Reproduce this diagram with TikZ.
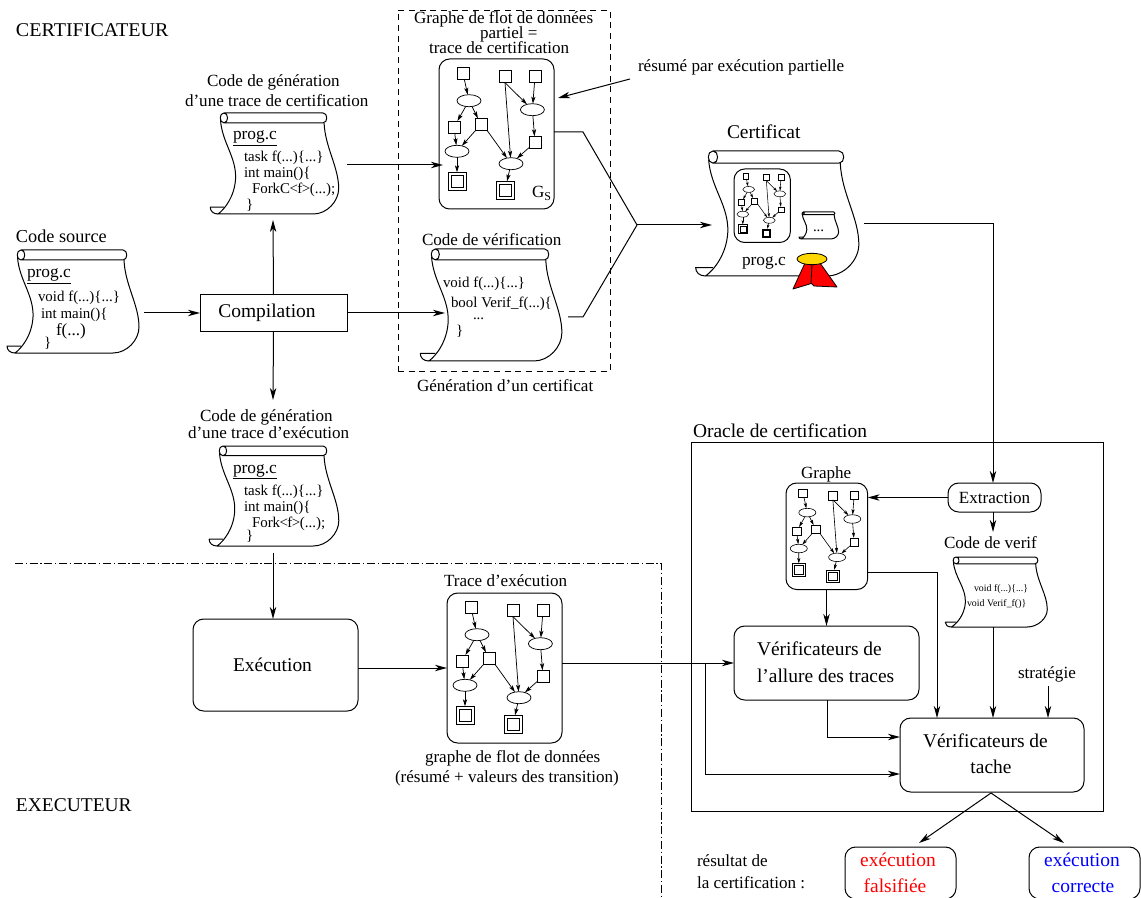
\documentclass[tikz,border=0pt]{standalone}
\usepackage{fontspec}
\setmainfont{Liberation Serif}
\usetikzlibrary{arrows.meta,shapes.geometric}
\newcommand\szN{\fontsize{12.8}{15}\selectfont}
\newcommand\szB{\fontsize{14.6}{17}\selectfont}
\newcommand\szS{\fontsize{13.7}{16}\selectfont}
\newcommand\szC{\fontsize{11.2}{13}\selectfont}
\newcommand\szP{\fontsize{13}{15}\selectfont}
\newcommand\szT{\fontsize{7.4}{9}\selectfont}
\definecolor{sealgold}{HTML}{FFD700}
\tikzset{
  x=0.75pt,y=-0.75pt,
  txt/.style={inner sep=0pt,outer sep=0pt,anchor=base west},
  wire/.style={line width=0.75pt},
  conn/.style={wire,-{Stealth[length=9pt,width=4.8pt,inset=2.6pt]}},
  frame/.style={draw,line width=0.75pt,rectangle,inner sep=0pt,outer sep=0pt},
  rframe/.style={frame,rounded corners=8pt},
  scrollline/.style={line width=0.75pt,line join=round},
}
% name, x1, y1, x2, y2, style, text
\newcommand\pxbox[7]{\node[#6,minimum width={(#4-#2)*0.75pt},minimum height={(#5-#3)*0.75pt}] (#1) at ({(#2+#4)/2},{(#3+#5)/2}) {#7};}
% x, y (bar top left), width, height
\newcommand\scrollshape[4]{%
  \begin{scope}[shift={(#1,#2)},xscale={#3/110},yscale={#4/103}]
    \draw[scrollline] (4,0) -- (106,0) .. controls (111,0) and (111,10) .. (106,10) -- (4,10)
       .. controls (-1,10) and (-1,0) .. (4,0) .. controls (9,0) and (9,10) .. (4,10);
    \draw[scrollline] (0.5,7) .. controls (2,30) and (17,45) .. (16,67)
       .. controls (15,85) and (5,98) .. (-2,103) -- (96,103)
       .. controls (110,103) and (122,90) .. (122,77)
       .. controls (122,55) and (108,35) .. (107,10);
    \draw[scrollline] (4,96) -- (-10,96) .. controls (-10,100) and (-7,103) .. (-2,103);
  \end{scope}}
% prefix, x, y, scale
\newcommand\minigraph[4]{%
  \pgfmathsetmacro\mgL{4*#4+1.2}\pgfmathsetmacro\mgW{2.6*#4+0.5}\pgfmathsetmacro\mgI{1*#4+0.2}%
  \pgfmathsetmacro\mgLw{0.3*#4+0.25}%
  \begin{scope}[shift={(#2,#3)},scale=#4,every node/.append style={transform shape},
     sqnode/.style={draw,line width=\mgLw pt,rectangle,minimum size=9pt,inner sep=0pt,outer sep=0pt},
     dblnode/.style={draw,line width=\mgLw pt,rectangle,minimum size=13.5pt,inner sep=0pt,outer sep=0pt},
     elnode/.style={draw,line width=\mgLw pt,ellipse,minimum width=18pt,minimum height=9pt,inner sep=0pt,outer sep=0pt},
     mini/.style={line width=\mgLw pt,-{Stealth[length=\mgL pt,width=\mgW pt,inset=\mgI pt]}}]
    \node[frame,rounded corners=8pt,minimum width=86.25pt,minimum height=112.5pt] (#1box) at (57.5,75) {};
    \node[sqnode] (#1s1) at (24,14.3) {};
    \node[sqnode] (#1s2) at (66,17.7) {};
    \node[sqnode] (#1s3) at (96,17.3) {};
    \node[elnode] (#1e1) at (30,41.7) {};
    \node[elnode] (#1e2) at (93.4,50.7) {};
    \node[sqnode] (#1s4) at (15,68) {};
    \node[sqnode] (#1s5) at (42,65.3) {};
    \node[sqnode] (#1s6) at (96,83.3) {};
    \node[elnode] (#1e3) at (18,92.3) {};
    \node[elnode] (#1e4) at (72,104.7) {};
    \node[dblnode] (#1d1) at (18,122.3) {};
    \node[sqnode] (#1i1) at (18,122.3) {};
    \node[dblnode] (#1d2) at (66,131.3) {};
    \node[sqnode] (#1i2) at (66,131.3) {};
    \draw[mini] (#1s1) -- (#1e1);
    \draw[mini] (#1s2.south) -- (#1e2);
    \draw[mini] (#1s3) -- (#1e2);
    \draw[mini] (#1s2.south) -- (#1e4);
    \draw[mini] (#1e1) -- (#1s4);
    \draw[mini] (#1e1) -- (#1s5);
    \draw[mini] (#1s4) -- (#1e3);
    \draw[mini] (#1s5) -- (#1e3);
    \draw[mini] (#1s5.south east) -- (#1e4);
    \draw[mini] (#1e2) -- (#1s6);
    \draw[mini] (#1s6) -- (#1e4);
    \draw[mini] (#1e3) -- (#1d1);
    \draw[mini] (#1e4) -- (#1d2);
  \end{scope}}
\begin{document}
\begin{tikzpicture}
\useasboundingbox (0,0) rectangle (1141,898);

% section titles
\node[txt,font=\szB,xscale=1.03] (tCert) at (16,36.5) {CERTIFICATEUR};
\node[txt,font=\szB] (tExec) at (16,811) {EXECUTEUR};

% dashed and dash-dotted frames
\pxbox{genbox}{398}{10}{610}{371}{draw,line width=0.65pt,dash pattern=on 4.5pt off 3.5pt,inner sep=0pt}{}
\coordinate (ddA) at (15,563);
\coordinate (ddB) at (661,563);
\coordinate (ddC) at (661,898);
\draw[line width=0.65pt,dash pattern=on 6pt off 2pt on 1pt off 2pt] (ddA) -- (ddB) -- (ddC);
\pxbox{oracle}{691}{442}{1103}{811}{frame}{}

% code source
\node[txt,font=\szS] (lSrc) at (16,243) {Code source};
\scrollshape{17}{250}{110}{103}
\node[txt,font=\szP] (a1) at (27,278) {\underline{prog.c}};
\node[txt,font=\szC] (a2) at (38,302) {void f(...)\{...\}};
\node[txt,font=\szC] (a3) at (41,319) {int main()\{};
\node[txt,font=\szN] (a4) at (56,335) {f(...)};
\node[txt,font=\szC] (a5) at (44,347) {\}};

% code generation certification trace
\node[txt,font=\szN] (b0) at (207,87) {Code de génération};
\node[txt,font=\szN] (b00) at (185,107) {d’une trace de certification};
\scrollshape{220}{113}{107}{101}
\node[txt,font=\szP] (b1) at (233,140) {\underline{prog.c}};
\node[txt,font=\szC] (b2) at (244,162) {task f(...)\{...\}};
\node[txt,font=\szC] (b3) at (244,178) {int main()\{};
\node[txt,font=\szC] (b4) at (252,194) {ForkC\kern-0.5pt<\kern-0.4pt f\kern-0.4pt>\kern-0.3pt(...);};
\node[txt,font=\szC] (b5) at (246,210) {\}};

% code generation execution trace
\node[txt,font=\szN] (c0) at (200,421) {Code de génération};
\node[txt,font=\szN] (c00) at (188,438) {d’une trace d’exécution};
\scrollshape{219}{446}{108}{100}
\node[txt,font=\szP] (c1) at (233,473) {\underline{prog.c}};
\node[txt,font=\szC] (c2) at (244,495) {task f(...)\{...\}};
\node[txt,font=\szC] (c3) at (244,511) {int main()\{};
\node[txt,font=\szC] (c4) at (252,527) {Fork\kern-0.5pt<\kern-0.4pt f\kern-0.4pt>\kern-0.3pt(...);};
\node[txt,font=\szC] (c5) at (246,540) {\}};

% dashed frame contents
\node[txt,font=\szN] (d1) at (414,24) {Graphe de flot de données};
\node[txt,font=\szN] (d2) at (480,39) {partiel =};
\node[txt,font=\szN] (d3) at (429,54) {trace de certification};
\minigraph{gs}{439}{59}{1}
\node[txt,font=\szN] (dG) at (532,198) {G\raisebox{-2pt}{\fontsize{9}{10}\selectfont S}};
\node[txt,font=\szN] (e0) at (422,246) {Code de vérification};
\scrollshape{431}{249}{118}{112}
\node[txt,font=\szC] (e1) at (443,288) {void f(...)\{...\}};
\node[txt,font=\szC] (e2) at (451,308) {bool Verif\_f(...)\{};
\node[txt,font=\szC] (e3) at (473,320) {...};
\node[txt,font=\szC] (e4) at (456,335) {\}};
\node[txt,font=\szN] (e5) at (417,391) {Génération d’un certificat};
\node[txt,font=\szN] (e6) at (638,72) {résumé par exécution partielle};

% certificate
\node[txt,font=\szB] (f0) at (727,139) {Certificat};
\scrollshape{708}{151}{136}{125}
\minigraph{ce}{734}{169}{0.49}
\scrollshape{802}{212}{33}{27}
\node[txt,font=\szC] (f1) at (813,232) {...};
\node[txt,font=\szP] (f2) at (742,266) {prog.c};
\draw[fill=red,line width=0.6pt,line join=round] (805,263) -- (793,289) -- (813,283) -- (812,265) -- cycle;
\draw[fill=red,line width=0.6pt,line join=round] (812,265) -- (811,283) -- (814,286) -- (837,287) -- (820,263) -- cycle;
\node[draw,fill=sealgold,line width=0.6pt,ellipse,minimum width=22.5pt,minimum height=8.5pt,inner sep=0pt] (seal) at (812,259) {};

% compilation and execution
\pxbox{comp}{200}{295}{347}{331}{frame,font=\szB}{Compilation\kern 9.8pt}
\pxbox{exe}{193}{619}{358}{711}{rframe,font=\szB}{Exécution\kern 4.5pt}

% execution trace
\node[txt,font=\szN] (g0) at (444,586) {Trace d’exécution};
\minigraph{tr}{447}{593}{1}
\node[txt,font=\szN] (g1) at (425,762) {graphe de flot de données};
\node[txt,font=\szN] (g2) at (395,782) {(résumé + valeurs des transition)};

% oracle contents
\node[txt,font=\szB] (h0) at (693,437) {Oracle de certification};
\pxbox{extr}{948}{483}{1041}{512}{rframe,font=\szN}{Extraction}
\node[txt,font=\szN] (h1) at (801,478) {Graphe};
\minigraph{gr}{786}{483}{0.71}
\node[txt,font=\szN] (h2) at (944,548) {Code de verif};
\scrollshape{953}{557}{85}{70}
\node[txt,font=\szT] (h3) at (974,591) {void f(...)\{...\}};
\node[txt,font=\szT] (h4) at (967,606) {void Verif\_f()\}};
\pxbox{allure}{734}{626}{919}{700}{rframe}{}
\node[txt,font=\szB] (i1) at (757,655) {Vérificateurs de};
\node[txt,font=\szB] (i2) at (757,682) {l’allure des traces};
\pxbox{tache}{900}{718}{1084}{792}{rframe}{}
\node[txt,font=\szB] (j1) at (923,747) {Vérificateurs de};
\node[txt,font=\szB,anchor=base] (j2) at (991,773) {tache};
\node[txt,font=\szN] (j3) at (1018,678) {stratégie};

% results
\node[txt,font=\szN] (k1) at (697,866) {résultat de};
\node[txt,font=\szN] (k2) at (697,888) {la certification :};
\pxbox{faux}{845}{847}{956}{899}{rframe}{}
\pxbox{vrai}{1029}{847}{1140}{899}{rframe}{}
\node[txt,font=\szB,text=red,anchor=base] (k3) at (898,866) {exécution};
\node[txt,font=\szB,text=red,anchor=base] (k4) at (895,892) {falsifiée};
\node[txt,font=\szB,text=blue,anchor=base] (k5) at (1082,866) {exécution};
\node[txt,font=\szB,text=blue,anchor=base] (k6) at (1083,892) {correcte};

% connector free ends
\coordinate (srcOut) at (144,313);
\coordinate (verifIn) at (445,313);
\coordinate (genCertIn) at (273,220);
\coordinate (genExecIn) at (273,400);
\coordinate (genExecOut) at (273,553);
\coordinate (genCertOut) at (347,165);
\coordinate (gsIn) at (443,165);
\coordinate (gsOut) at (554,132);
\coordinate (gsBend) at (583,132);
\coordinate (join) at (637,225);
\coordinate (verifOut) at (568,317);
\coordinate (verifBend) at (583,317);
\coordinate (certIn) at (712,225);
\coordinate (resA) at (630,79);
\coordinate (resB) at (558,98);
\coordinate (certOut) at (864,224);
\coordinate (certBend) at (993,224);
\coordinate (verifCodeIn) at (993,532);
\coordinate (verifCodeOut) at (993,627);
\coordinate (grOutA) at (868,572);
\coordinate (grBend) at (937,572);
\coordinate (stratTop) at (1048,686);
\coordinate (forkTop) at (705,663);
\coordinate (forkBot) at (705,774);
\coordinate (allBend) at (827,737);
\coordinate (resApex) at (991,793);
\coordinate (resL) at (919,843);
\coordinate (resR) at (1064,843);

% connectors
\draw[conn] (srcOut) -- (comp.west);
\draw[conn] (comp.north) -- (genCertIn);
\draw[conn] (comp.south) -- (genExecIn);
\draw[conn] (comp.east) -- (verifIn);
\draw[conn] (genExecOut) -- (exe.north -| genExecOut);
\draw[conn] (genCertOut) -- (gsIn);
\draw[wire] (gsOut) -- (gsBend) -- (join);
\draw[wire] (verifOut) -- (verifBend) -- (join);
\draw[conn] (join) -- (certIn);
\draw[conn] (resA) -- (resB);
\draw[conn] (certOut) -- (certBend) -- (extr.north -| certBend);
\draw[conn] (extr.west) -- (extr.west -| grbox.east);
\draw[conn] (extr.south -| verifCodeIn) -- (verifCodeIn);
\draw[conn] (grbox.south -| allure.north) -- (allure.north);
\draw[conn] (grOutA) -- (grBend) -- (tache.north -| grBend);
\draw[conn] (verifCodeOut) -- (tache.north -| verifCodeOut);
\draw[conn] (stratTop) -- (tache.north -| stratTop);
\draw[conn] (allure.south -| allBend) -- (allBend) -- (tache.west |- allBend);
\draw[conn] (exe.east |- trbox.west) -- (trbox.west);
\draw[conn] (trbox.east |- allure.west) -- (allure.west);
\draw[conn] (forkTop) -- (forkBot) -- (tache.west |- forkBot);
\draw[conn] (resApex) -- (resL);
\draw[conn] (resApex) -- (resR);
\end{tikzpicture}
\end{document}
